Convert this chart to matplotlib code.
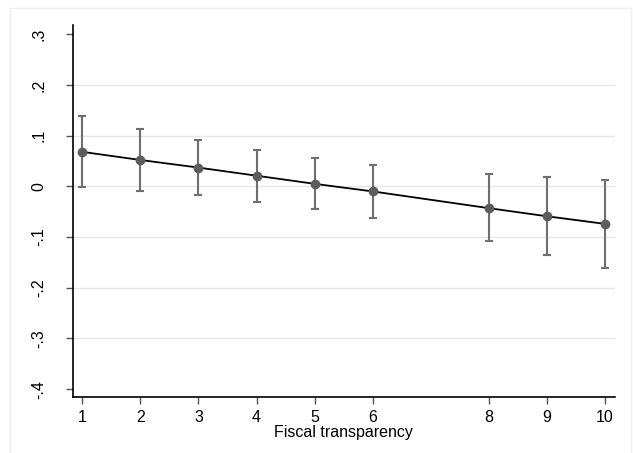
import numpy as np
import matplotlib
matplotlib.use('Agg')
import matplotlib.pyplot as plt
from matplotlib.patches import Rectangle

# marginal effect at each level of fiscal transparency
x_vals = [1, 2, 3, 4, 5, 6, 8, 9, 10]
effect = [0.068, 0.052, 0.037, 0.021, 0.005, -0.010, -0.043, -0.059, -0.074]
ci_low = [-0.002, -0.009, -0.018, -0.030, -0.045, -0.063, -0.108, -0.135, -0.161]
ci_high = [0.139, 0.114, 0.091, 0.071, 0.055, 0.043, 0.024, 0.018, 0.013]

y_ticks = [-0.4, -0.3, -0.2, -0.1, 0, 0.1, 0.2, 0.3]
y_labels = ['-.4', '-.3', '-.2', '-.1', '0', '.1', '.2', '.3']
grid_lines = [-0.3, -0.2, -0.1, 0, 0.1, 0.2]

plt.rcParams['font.family'] = ['Liberation Sans', 'DejaVu Sans']

fig = plt.figure(figsize=(6.33, 4.53), dpi=100)
fig.patches.append(Rectangle((10 / 633, -0.01), 621 / 633, 1 - 8 / 453 + 0.01,
                             transform=fig.transFigure, fill=False,
                             edgecolor='#eeeeee', lw=1))
ax = fig.add_axes([72.7 / 633, 1 - 397.3 / 453, 542 / 633, 372 / 453])

for g in grid_lines:
    ax.axhline(g, color='#e8e8e8', lw=1, zorder=0)

eff = np.array(effect)
err = [eff - np.array(ci_low), np.array(ci_high) - eff]
ax.errorbar(x_vals, effect, yerr=err, fmt='none', ecolor='#6f6f6f',
            elinewidth=1.5, capsize=3, capthick=1.5, zorder=2)
ax.plot(x_vals, effect, color='black', lw=1.3, zorder=3)
ax.plot(x_vals, effect, 'o', color='#5c5c5c', ms=6, zorder=4)

ax.set_xlim(0.835, 10.167)
ax.set_ylim(-0.416, 0.3176)
ax.set_xticks(x_vals)
ax.set_yticks(y_ticks)
ax.set_yticklabels(y_labels, rotation=90, va='center')
ax.tick_params(axis='y', length=5, width=1, color='#555555', pad=14, labelsize=11.5)
ax.tick_params(axis='x', length=5, width=1, color='#555555', pad=4, labelsize=11.5)
ax.set_xlabel('Fiscal transparency', fontsize=11.5, labelpad=0.5)

ax.spines['top'].set_visible(False)
ax.spines['right'].set_visible(False)
ax.spines['left'].set_linewidth(1.2)
ax.spines['bottom'].set_linewidth(1.2)

fig.savefig('out.png', dpi=100)
